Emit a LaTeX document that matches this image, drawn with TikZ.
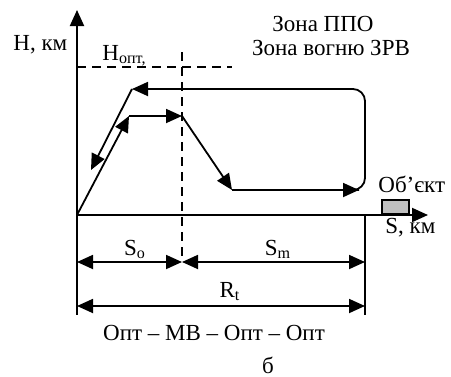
\documentclass[tikz,border=0pt]{standalone}
\usepackage{fontspec}
\setmainfont{Liberation Serif}
\usetikzlibrary{arrows.meta, positioning}

\begin{document}
\begin{tikzpicture}[
    x=0.5pt, y=-0.5pt,
    >={Triangle[length=8pt, width=7pt]},
    axis/.style={line width=1pt, ->},
    track/.style={line width=0.9pt, ->},
    guide/.style={line width=0.8pt, dash pattern=on 4.5pt off 3pt},
    dim/.style={line width=0.9pt, <->},
    lbl/.style={inner sep=0pt, font=\fontsize{11.5}{13}\selectfont}
]
  \useasboundingbox (0,0) rectangle (451,376);

  % Axes
  \coordinate (O) at (77,215);
  \coordinate (Ytip) at (77,10);
  \coordinate (Xtip) at (428,215);
  \draw[axis] (O) -- (Ytip);
  \draw[axis] (O) -- (Xtip);
  \node[lbl, anchor=base west] (Hlab) at (13,50) {H, км};
  \node[lbl, anchor=base west] (Slab) at (385,233) {S, км};

  % Optimal height and boundary
  \coordinate (Hl) at (77,67);
  \coordinate (Hr) at (232,67);
  \draw[guide] (Hl) -- (Hr);
  \node[lbl, anchor=base west] (Hopt) at (102,60) {H\textsubscript{опт,}};
  \coordinate (Vt) at (182,52);
  \coordinate (Vb) at (182,262);
  \draw[guide] (Vt) -- (Vb);

  % Zones
  \node[lbl, anchor=base] (zone1) at (323,31) {Зона ППО};
  \node[lbl, anchor=base] (zone2) at (331,55) {Зона вогню ЗРВ};

  % Flight path
  \coordinate (B) at (129,116);
  \coordinate (C) at (182,116);
  \coordinate (D) at (232,190);
  \coordinate (Etip) at (359,190);
  \coordinate (E) at (365,190);
  \coordinate (F) at (365,89);
  \coordinate (A) at (132,89);
  \coordinate (G) at (91,170);
  \draw[track] (O) -- (B);
  \draw[track] (B) -- (C);
  \draw[track] (C) -- (D);
  \draw[track] (D) -- (Etip);
  \draw[track, rounded corners=6] (Etip) -- (E) -- (F) -- (A);
  \draw[track] (A) -- (G);

  % Object
  \node[draw, line width=0.8pt, fill=black!25, minimum width=13.5pt, minimum height=7pt,
        inner sep=0pt, anchor=south west] (obj) at (381,215) {};
  \node[lbl, anchor=base west] (objlab) at (378,192) {Об’єкт};

  % Distances
  \coordinate (L1) at (77,215);
  \coordinate (L2) at (77,315);
  \coordinate (R1) at (365,215);
  \coordinate (R2) at (365,315);
  \draw[line width=0.9pt] (L1) -- (L2);
  \draw[line width=0.9pt] (R1) -- (R2);
  \coordinate (So1) at (77,262);
  \coordinate (So2) at (182,262);
  \coordinate (Sm2) at (365,262);
  \coordinate (Rt1) at (77,306);
  \coordinate (Rt2) at (365,306);
  \draw[dim] (So1) -- (So2);
  \draw[dim] (So2) -- (Sm2);
  \draw[dim] (Rt1) -- (Rt2);
  \node[lbl, anchor=base] (So) at (135,255) {S\textsubscript{o}};
  \node[lbl, anchor=base] (Sm) at (278,255) {S\textsubscript{m}};
  \node[lbl, anchor=base] (Rt) at (230,297) {R\textsubscript{t}};

  % Labels
  \node[lbl, anchor=base] (mode) at (214,340) {Опт – МВ – Опт – Опт};
  \node[lbl, anchor=base] (part) at (268,373) {б};
\end{tikzpicture}
\end{document}
